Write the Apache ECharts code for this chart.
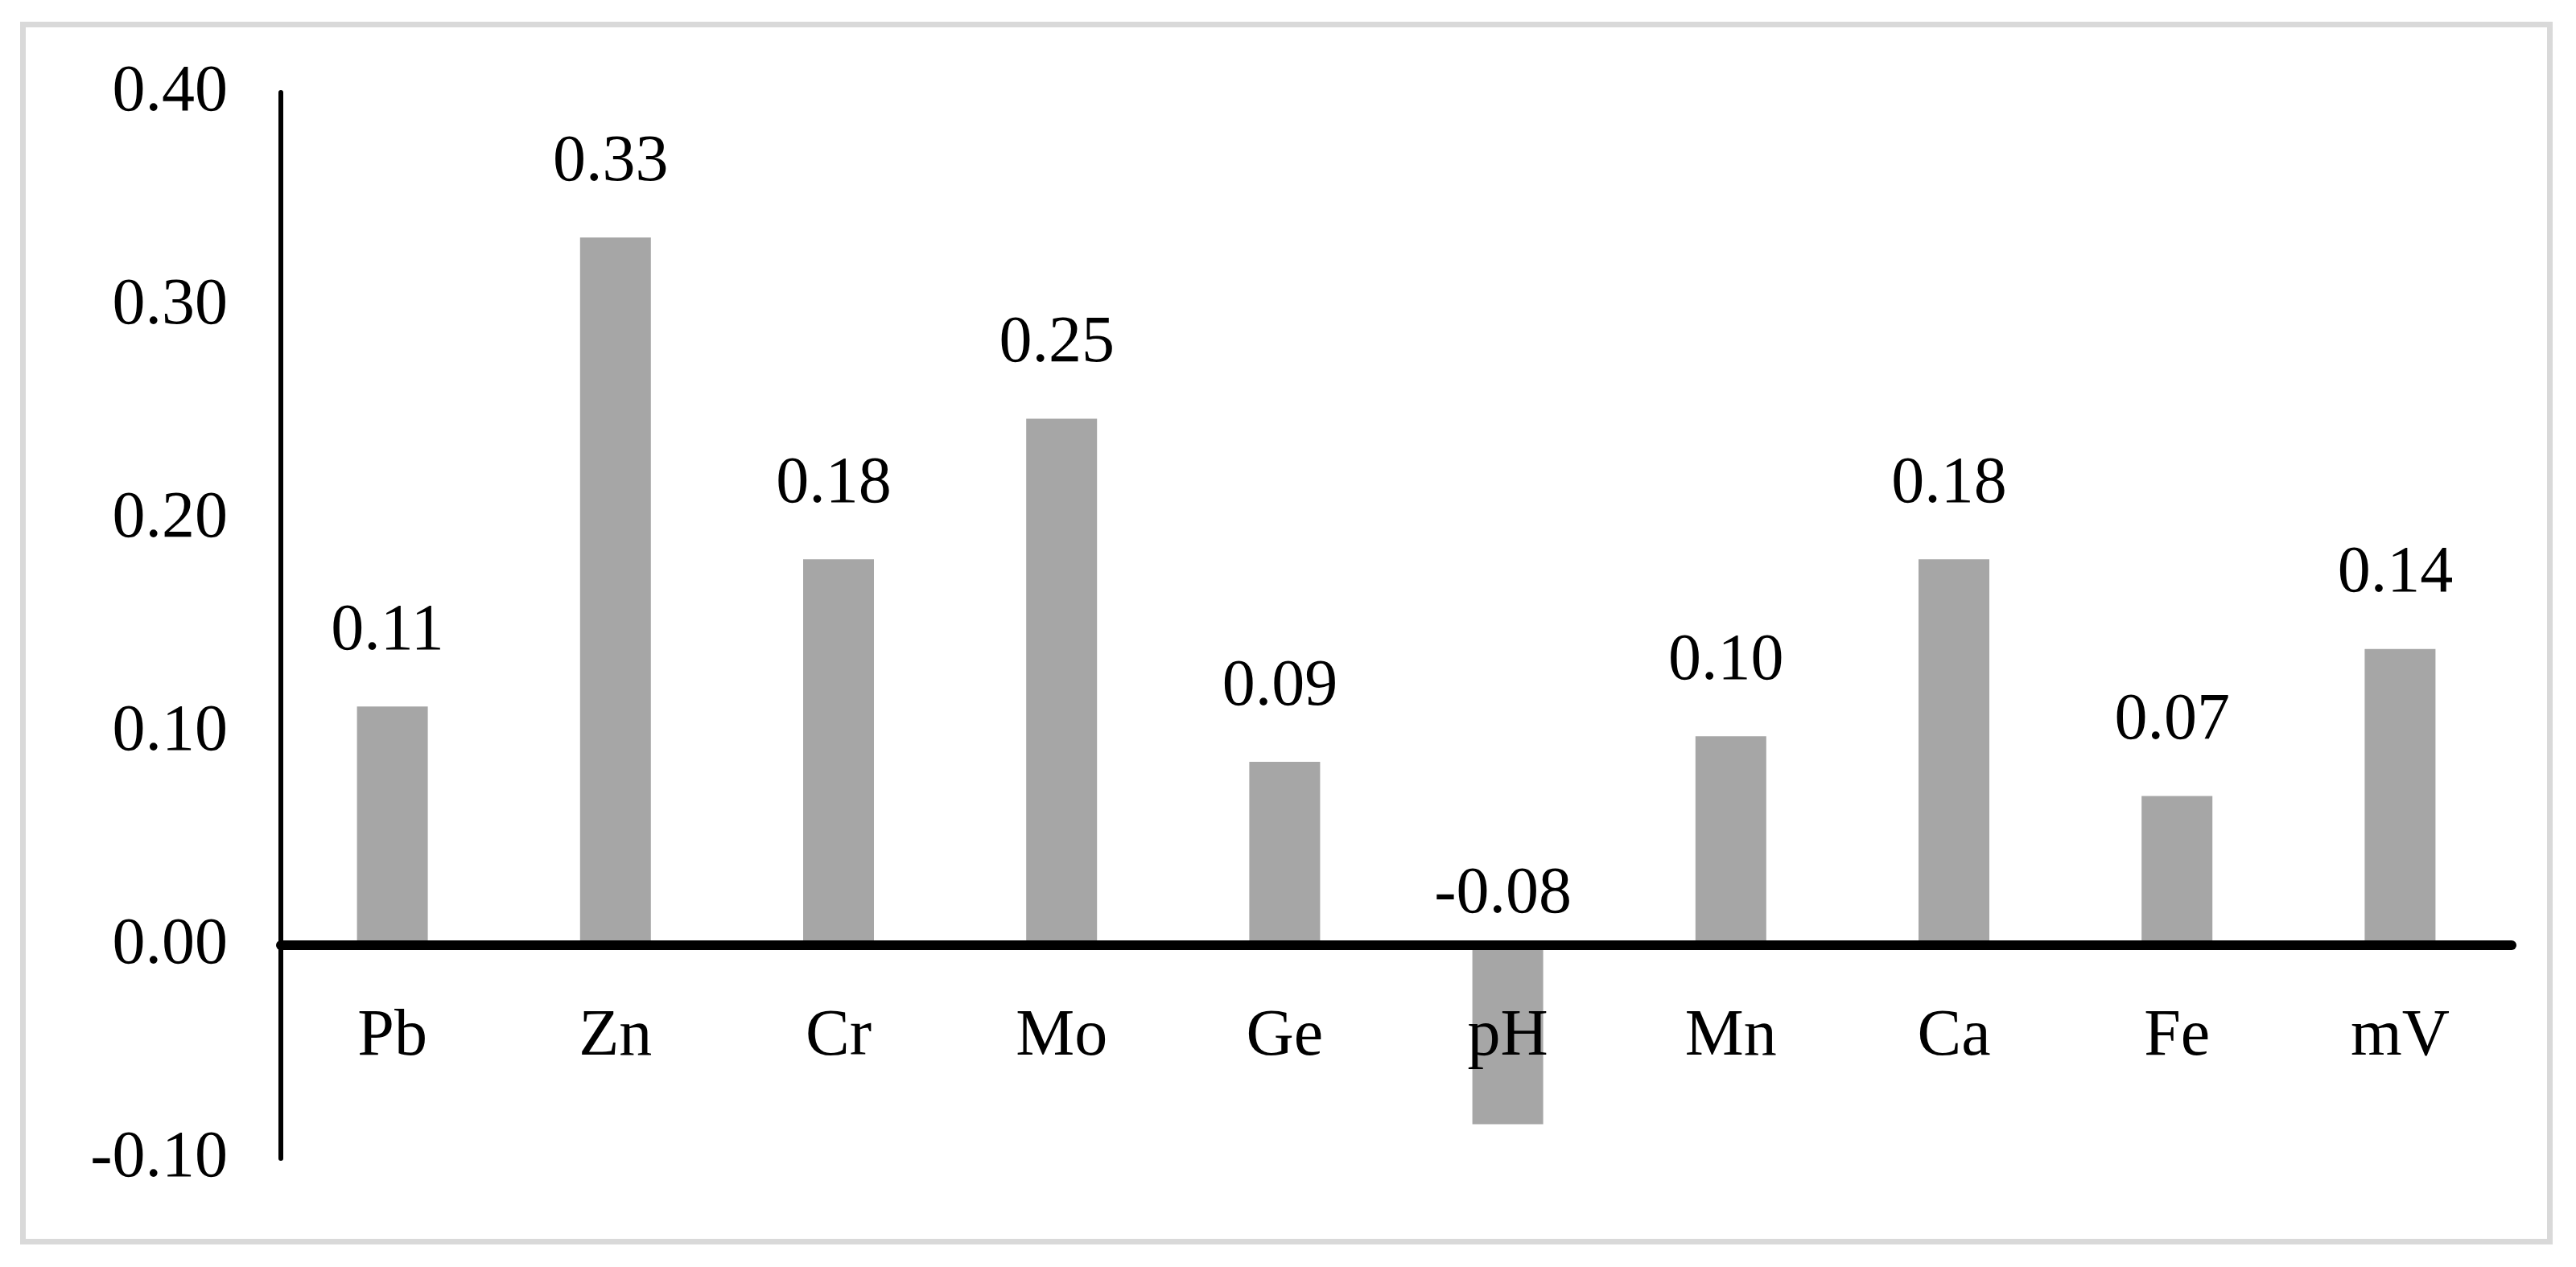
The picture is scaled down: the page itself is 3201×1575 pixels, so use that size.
<!DOCTYPE html>
<html>
<head>
<meta charset="utf-8">
<script src="https://cdn.jsdelivr.net/npm/echarts@6/dist/echarts.min.js"></script>
<style>
  html, body { margin: 0; padding: 0; background: #ffffff; }
  #chart { width: 3201px; height: 1575px; }
</style>
</head>
<body>
<div id="chart"></div>
<script>
// Categories and values
const categories = ['Pb', 'Zn', 'Cr', 'Mo', 'Ge', 'pH', 'Mn', 'Ca', 'Fe', 'mV'];
const values = [0.112, 0.332, 0.181, 0.247, 0.086, -0.084, 0.098, 0.181, 0.070, 0.139];
const yMin = -0.1;
const yMax = 0.4;
const yInterval = 0.1;

const FONT = '"Liberation Serif", "Times New Roman", serif';

const chart = echarts.init(document.getElementById('chart'), null, { renderer: 'canvas' });

const seriesData = values.map(function (v) {
  if (v < 0) {
    return { value: v, label: { distance: 22 } };
  }
  return { value: v };
});

chart.setOption({
  backgroundColor: '#ffffff',
  animation: false,
  graphic: [{
    type: 'rect',
    shape: { x: 28.5, y: 30.5, width: 3140, height: 1513 },
    style: { fill: 'none', stroke: '#d9d9d9', lineWidth: 7 },
    z: -10
  }],
  grid: { left: 349, right: 80, top: 115, bottom: 135, containLabel: false },
  xAxis: {
    type: 'category',
    data: categories,
    z: 10,
    axisLine: { show: true, onZero: true, lineStyle: { color: '#000000', width: 12 } },
    axisTick: { show: false },
    splitLine: { show: false },
    axisLabel: { margin: -192, fontFamily: FONT, fontSize: 82, color: '#000000' }
  },
  yAxis: {
    type: 'value',
    min: yMin,
    max: yMax,
    interval: yInterval,
    z: 9,
    axisLine: { show: true, lineStyle: { color: '#000000', width: 6 } },
    axisTick: { show: false },
    splitLine: { show: false },
    axisLabel: {
      margin: 66, fontFamily: FONT, fontSize: 82, color: '#000000',
      formatter: function (v) { return v.toFixed(2); }
    }
  },
  series: [{
    type: 'bar',
    data: seriesData,
    barWidth: 88,
    itemStyle: { color: '#a6a6a6' },
    label: {
      show: true,
      position: 'top',
      distance: 52,
      offset: [-6, 0],
      fontFamily: FONT,
      fontSize: 82,
      color: '#000000',
      formatter: function (p) { return p.value.toFixed(2); }
    }
  }]
});
</script>
</body>
</html>
